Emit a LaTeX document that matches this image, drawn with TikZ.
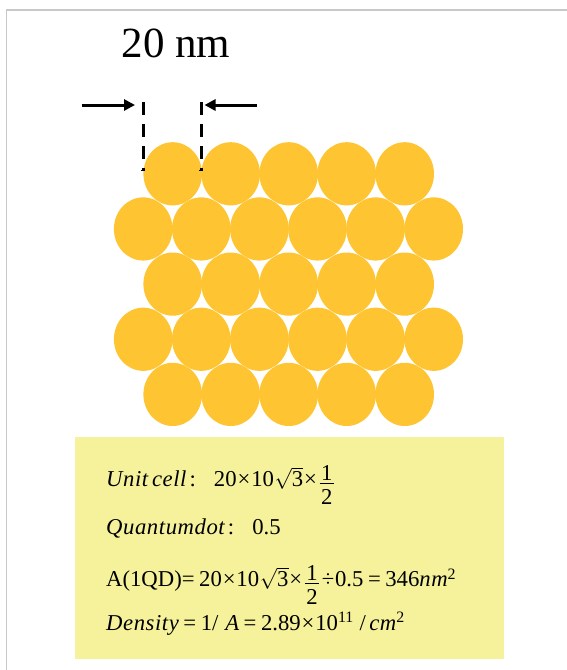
\documentclass[tikz,border=0pt]{standalone}
\usepackage{fontspec}
\setmainfont{Liberation Serif}
\newfontface\qit[LetterSpace=2.5]{Liberation Serif Italic}
\usetikzlibrary{arrows.meta}
\definecolor{qdgold}{RGB}{254,196,50}
\definecolor{boxyellow}{RGB}{246,242,155}
\definecolor{framegray}{RGB}{200,200,200}
\newcommand\myhalf{\mbox{\kern0.08em\rlap{\rule[3.4pt]{0.62em}{0.7pt}}\kern0.06em\rlap{\raisebox{6.7pt}{1}}\raisebox{-17.3pt}{2}\kern0.06em\kern0.08em}}
\newcommand\op[1]{\kern0.04em#1\kern0.04em}
\newcommand\rel[1]{\kern0.2em#1\kern0.2em}
\newcommand\rad{\kern0.03em$\sqrt{\mbox{3}}$}
\tikzset{
  qd/.style={fill=qdgold},
  dimline/.style={line width=3pt, dash pattern=on 13pt off 9pt},
  dimarrow/.style={line width=3pt, -{Triangle[length=11pt,width=11pt]}},
  eqline/.style={anchor=base west, inner sep=0pt, font=\fontsize{22.7}{27}\selectfont},
}
\begin{document}
\begin{tikzpicture}[x=1pt,y=-1pt]
\useasboundingbox (0,0) rectangle (567,670);
\fill[white] (0,0) rectangle (567,670);
\draw[framegray, line width=1.5pt] (6.5,670) -- (6.5,10) -- (567,10);
% title
\node[anchor=base, inner sep=0pt, font=\fontsize{43}{50}\selectfont] (title) at (176,57) {20 nm};
% quantum dots
\foreach \r in {0,2,4} {
  \foreach \i in {0,...,4} {
    \fill[qd] ({172.7+58*\i},{173.8+55.15*\r}) ellipse [x radius=29.3pt, y radius=31.6pt];
  }
}
\foreach \r in {1,3} {
  \foreach \i in {0,...,5} {
    \fill[qd] ({143.2+58.1*\i},{173.8+55.15*\r}) ellipse [x radius=29.3pt, y radius=31.6pt];
  }
}
% dimension
\coordinate (dlt) at (143.4,102);
\coordinate (dlb) at (143.4,170);
\coordinate (drt) at (201.2,102);
\coordinate (drb) at (201.2,170);
\draw[dimline] (dlt) -- (dlb);
\draw[dimline] (drt) -- (drb);
\draw[line width=1pt] (141.4,170) -- (145.4,170);
\draw[line width=1pt] (199.2,170) -- (203.2,170);
\coordinate (la) at (81.7,105);
\coordinate (lb) at (135,105);
\coordinate (ra) at (256.7,105);
\coordinate (rb) at (204.5,105);
\draw[dimarrow] (la) -- (lb);
\draw[dimarrow] (ra) -- (rb);
% formula box
\fill[boxyellow] (75,437) rectangle (504,659);
\node[eqline] (l1) at (106,486.7) {{\qit Unit\,cell}\kern3pt:\hspace{0.8em}20\op{×}10\rad\op{×}\myhalf};
\node[eqline] (l2) at (106,534) {{\qit Quantumdot}\kern3pt:\hspace{0.8em}0.5};
\node[eqline] (l3) at (106,586.7) {A(1QD)=\kern0.2em20\op{×}10\rad\op{×}\myhalf\op{÷}0.5\rel{=}346{\qit nm}\textsuperscript{2}};
\node[eqline] (l4) at (106,630) {{\qit Density}\rel{=}1/\kern0.3em{\qit A}\rel{=}2.89\op{×}10\textsuperscript{11}\kern0.25em/\kern0.15em{\qit cm}\textsuperscript{2}};
\end{tikzpicture}
\end{document}
